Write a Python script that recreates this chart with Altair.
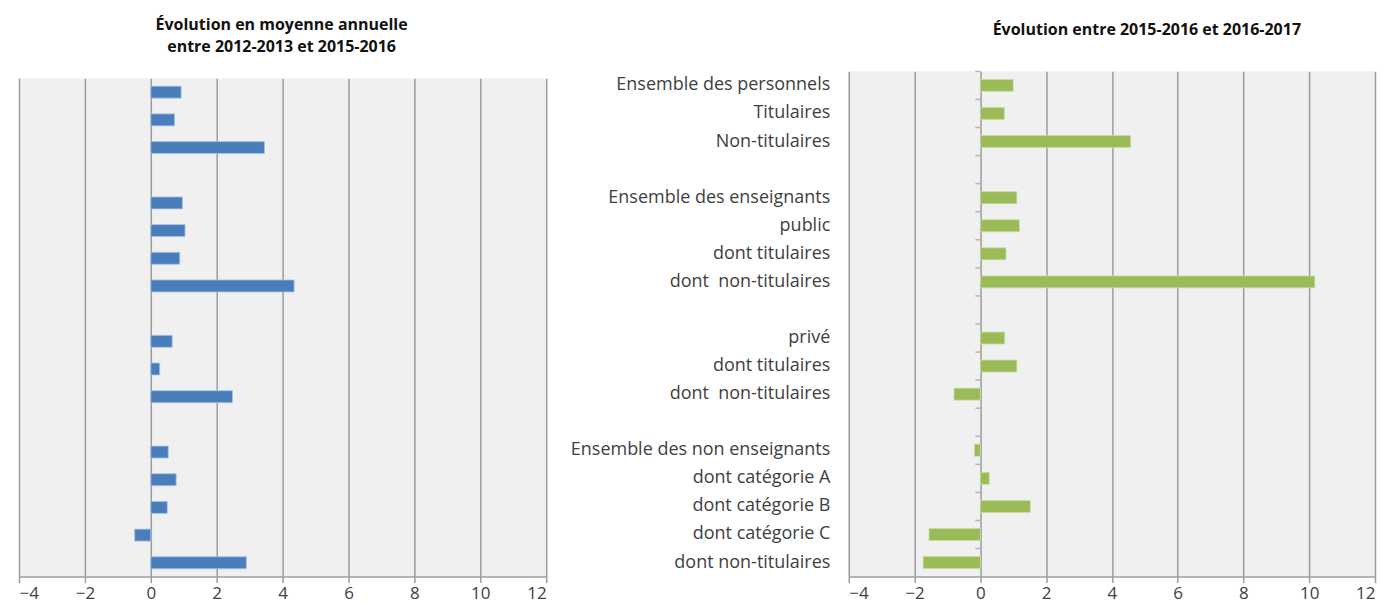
import json
import altair as alt
import pandas as pd

labels = ["Ensemble des personnels", "Titulaires", "Non-titulaires", "",
          "Ensemble des enseignants", "public", "dont titulaires", "dont\u00a0 non-titulaires", "",
          "privé", "dont titulaires", "dont\u00a0 non-titulaires", "",
          "Ensemble des non enseignants", "dont catégorie A", "dont catégorie B",
          "dont catégorie C", "dont non-titulaires"]
evol_2013_2016 = [0.92, 0.72, 3.45, None, 0.96, 1.04, 0.88, 4.35, None,
                  0.65, 0.27, 2.48, None, 0.53, 0.77, 0.50, -0.49, 2.90]
evol_2016_2017 = [1.00, 0.73, 4.57, None, 1.11, 1.19, 0.78, 10.17, None,
                  0.74, 1.11, -0.80, None, -0.18, 0.27, 1.52, -1.56, -1.74]
x_ticks = [-4, -2, 0, 2, 4, 6, 8, 10, 12]

FONT = "Open Sans"
GRID = "#9C9C9C"
TXT = "#404040"

rows = list(range(len(labels)))
df = pd.DataFrame({"row": rows, "label": labels,
                   "left": evol_2013_2016, "right": evol_2016_2017})

label_expr = "[" + ",".join(json.dumps(l, ensure_ascii=False) for l in labels) + "][datum.value]"


def x_enc(field):
    return alt.X(f"{field}:Q",
                 scale=alt.Scale(domain=[-4, 12], nice=False, zero=False),
                 axis=alt.Axis(values=x_ticks, title=None, grid=True, gridColor=GRID,
                               gridWidth=1.5, domainColor=GRID, domainWidth=1.5,
                               tickColor=GRID, tickWidth=1.5, tickSize=6,
                               labelFontSize=17, labelColor=TXT, labelFont=FONT,
                               labelPadding=3))


yscale = alt.Scale(domain=rows, paddingInner=0, paddingOuter=0)

left_bars = alt.Chart(df).transform_filter("isValid(datum.left)").mark_bar(
    size=12, color="#4A7EBB", stroke="#A9C4E6", strokeWidth=0.8
).encode(
    x=x_enc("left"),
    y=alt.Y("row:O", scale=yscale, axis=None),
).properties(width=528, height=499)

spacer = alt.Chart(df).mark_point(opacity=0).encode(
    x=alt.value(0), y=alt.value(0)
).properties(width=528, height=7,
             view=alt.ViewBackground(fill="white", strokeWidth=0))

left = alt.vconcat(spacer, left_bars, spacing=0).properties(
    title=alt.TitleParams(["Évolution en moyenne annuelle", "entre 2012-2013 et 2015-2016"],
                          fontSize=16, font=FONT, fontWeight="bold", color="#111111",
                          lineHeight=22, offset=14, anchor="middle"),
)

yaxis_right = alt.Axis(title=None, ticks=False, domain=False, labelExpr=label_expr,
                       labelFontSize=18, labelFont=FONT, labelColor=TXT, labelPadding=19,
                       labelLimit=400, minExtent=276, maxExtent=276)

bars_r = alt.Chart(df).transform_filter("isValid(datum.right)").mark_bar(
    size=12, color="#9BBB59", stroke="#C9DDA6", strokeWidth=0.8
).encode(
    x=x_enc("right"),
    y=alt.Y("row:O", scale=yscale, axis=yaxis_right),
)

ticks_r = alt.Chart(df).mark_tick(
    orient="horizontal", size=5, thickness=1.5, color=GRID, xOffset=-2.5
).encode(
    x=alt.X(datum=0),
    y=alt.Y("row:O", bandPosition=0, scale=yscale, axis=yaxis_right),
)

right = alt.layer(ticks_r, bars_r).properties(
    width=527, height=506,
    title=alt.TitleParams("Évolution entre 2015-2016 et 2016-2017",
                          fontSize=16, font=FONT, fontWeight="bold", color="#111111",
                          offset=33, anchor="middle", dx=35),
)

chart = alt.hconcat(left, right, spacing=23).properties(
    padding={"left": 8, "top": 8, "right": 5, "bottom": 5}
).configure_view(fill="#F0F0F0", strokeWidth=0)

chart.save("out.html", embed_options={"renderer": "svg", "actions": False})
